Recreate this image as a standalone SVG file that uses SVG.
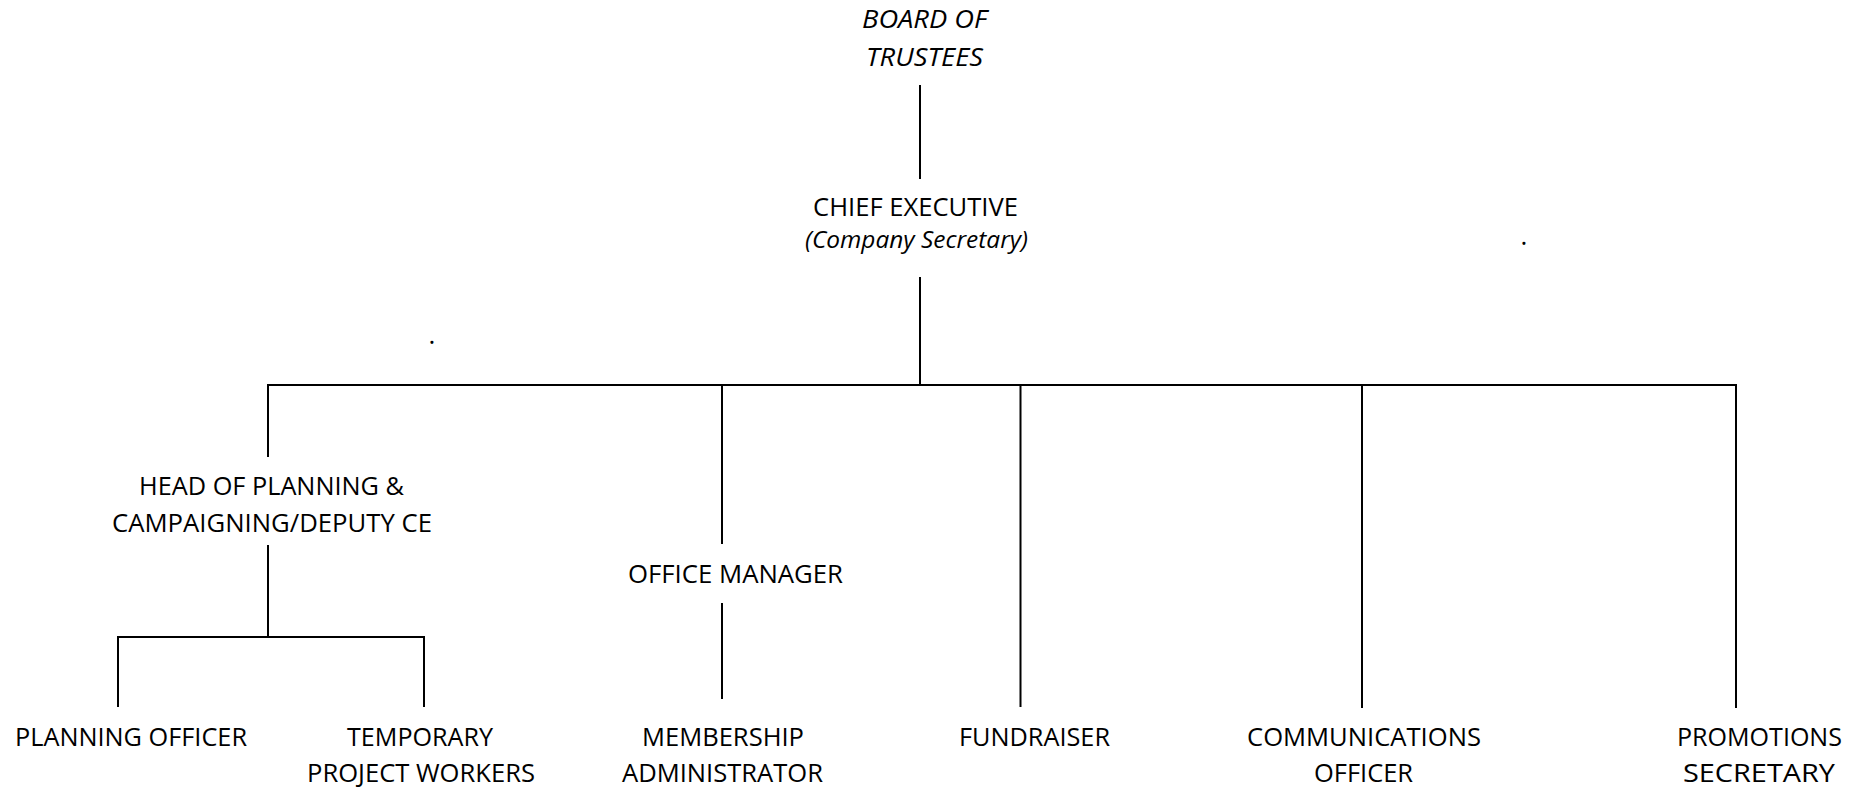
<svg xmlns="http://www.w3.org/2000/svg" width="1862" height="787" viewBox="0 0 1862 787">
  <style>
    .lbl { font-family: "Open Sans", "Liberation Sans", sans-serif; font-size: 26px; fill: #000; text-anchor: middle; }
    .it { font-style: italic; }
    .sm { font-size: 23.5px; }
    .ln { stroke: #000; stroke-width: 2; fill: none; stroke-linecap: butt; }
  </style>
  <rect width="1862" height="787" fill="#fff"/>

  <!-- reporting lines -->
  <g id="connectors">
    <path class="ln" d="M920 85V179"/>
    <path class="ln" d="M920 277V385"/>
    <path class="ln" d="M267 385H1737"/>
    <path class="ln" d="M268 385V457"/>
    <path class="ln" d="M722 385V544"/>
    <path class="ln" d="M1020.5 385V707"/>
    <path class="ln" d="M1362 385V708"/>
    <path class="ln" d="M1736 384V708"/>
    <path class="ln" d="M268 545V637"/>
    <path class="ln" d="M117 637H425"/>
    <path class="ln" d="M118 636V707"/>
    <path class="ln" d="M424 636V707"/>
    <path class="ln" d="M722 603V699"/>
  </g>

  <g id="board">
    <text class="lbl it" x="924.5" y="28" textLength="125" lengthAdjust="spacingAndGlyphs">BOARD OF</text>
    <text class="lbl it" x="924.5" y="66" textLength="117" lengthAdjust="spacingAndGlyphs">TRUSTEES</text>
  </g>
  <g id="chief-executive">
    <text class="lbl" x="915.5" y="216" textLength="205" lengthAdjust="spacingAndGlyphs">CHIEF EXECUTIVE</text>
    <text class="lbl it sm" x="916.5" y="248" textLength="223" lengthAdjust="spacingAndGlyphs">(Company Secretary)</text>
  </g>
  <g id="head-of-planning">
    <text class="lbl" x="271.5" y="495" textLength="265" lengthAdjust="spacingAndGlyphs">HEAD OF PLANNING &amp;</text>
    <text class="lbl" x="272" y="532" textLength="320" lengthAdjust="spacingAndGlyphs">CAMPAIGNING/DEPUTY CE</text>
  </g>
  <g id="office-manager">
    <text class="lbl" x="735.5" y="583" textLength="215" lengthAdjust="spacingAndGlyphs">OFFICE MANAGER</text>
  </g>
  <g id="planning-officer">
    <text class="lbl" x="131" y="746" textLength="232" lengthAdjust="spacingAndGlyphs">PLANNING OFFICER</text>
  </g>
  <g id="temporary-project-workers">
    <text class="lbl" x="420" y="746" textLength="146" lengthAdjust="spacingAndGlyphs">TEMPORARY</text>
    <text class="lbl" x="421" y="782" textLength="228" lengthAdjust="spacingAndGlyphs">PROJECT WORKERS</text>
  </g>
  <g id="membership-administrator">
    <text class="lbl" x="723" y="746" textLength="162" lengthAdjust="spacingAndGlyphs">MEMBERSHIP</text>
    <text class="lbl" x="722.5" y="782" textLength="201" lengthAdjust="spacingAndGlyphs">ADMINISTRATOR</text>
  </g>
  <g id="fundraiser">
    <text class="lbl" x="1034.5" y="746" textLength="151" lengthAdjust="spacingAndGlyphs">FUNDRAISER</text>
  </g>
  <g id="communications-officer">
    <text class="lbl" x="1364" y="746" textLength="234" lengthAdjust="spacingAndGlyphs">COMMUNICATIONS</text>
    <text class="lbl" x="1363.5" y="782" textLength="99" lengthAdjust="spacingAndGlyphs">OFFICER</text>
  </g>
  <g id="promotions-secretary">
    <text class="lbl" x="1759.5" y="746" textLength="165" lengthAdjust="spacingAndGlyphs">PROMOTIONS</text>
    <text class="lbl" x="1759" y="782" textLength="152" lengthAdjust="spacingAndGlyphs">SECRETARY</text>
  </g>

  <!-- stray full stops -->
  <text class="lbl" x="432" y="344">.</text>
  <text class="lbl" x="1524" y="245">.</text>
</svg>
